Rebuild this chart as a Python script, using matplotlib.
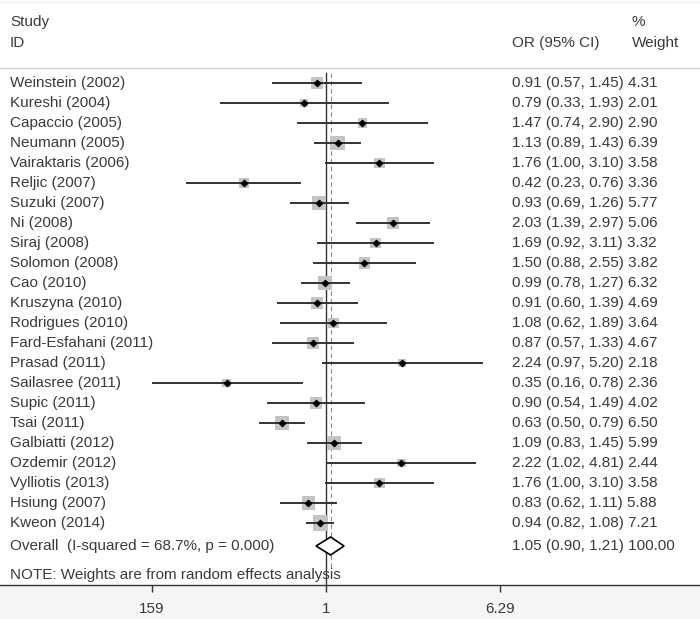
import numpy as np
import matplotlib
matplotlib.use('Agg')
import matplotlib.pyplot as plt
from matplotlib.patches import Polygon
import matplotlib.transforms as mtransforms

plt.rcParams['font.family'] = ['Liberation Sans', 'DejaVu Sans']

studies = ['Weinstein (2002)', 'Kureshi (2004)', 'Capaccio (2005)', 'Neumann (2005)',
           'Vairaktaris (2006)', 'Reljic (2007)', 'Suzuki (2007)', 'Ni (2008)',
           'Siraj (2008)', 'Solomon (2008)', 'Cao (2010)', 'Kruszyna (2010)',
           'Rodrigues (2010)', 'Fard-Esfahani (2011)', 'Prasad (2011)', 'Sailasree (2011)',
           'Supic (2011)', 'Tsai (2011)', 'Galbiatti (2012)', 'Ozdemir (2012)',
           'Vylliotis (2013)', 'Hsiung (2007)', 'Kweon (2014)']
odds = [0.91, 0.79, 1.47, 1.13, 1.76, 0.42, 0.93, 2.03, 1.69, 1.50, 0.99, 0.91,
        1.08, 0.87, 2.24, 0.35, 0.90, 0.63, 1.09, 2.22, 1.76, 0.83, 0.94]
lower = [0.57, 0.33, 0.74, 0.89, 1.00, 0.23, 0.69, 1.39, 0.92, 0.88, 0.78, 0.60,
         0.62, 0.57, 0.97, 0.16, 0.54, 0.50, 0.83, 1.02, 1.00, 0.62, 0.82]
upper = [1.45, 1.93, 2.90, 1.43, 3.10, 0.76, 1.26, 2.97, 3.11, 2.55, 1.27, 1.39,
         1.89, 1.33, 5.20, 0.78, 1.49, 0.79, 1.45, 4.81, 3.10, 1.11, 1.08]
weights = [4.31, 2.01, 2.90, 6.39, 3.58, 3.36, 5.77, 5.06, 3.32, 3.82, 6.32, 4.69,
           3.64, 4.67, 2.18, 2.36, 4.02, 6.50, 5.99, 2.44, 3.58, 5.88, 7.21]
overall = (1.05, 0.90, 1.21)
overall_label = 'Overall  (I-squared = 68.7%, p = 0.000)'
note = 'NOTE: Weights are from random effects analysis'
ticks = [0.159, 1, 6.29]
tick_labels = ['159', '1', '6.29']

fig = plt.figure(figsize=(7, 6.19), dpi=100)
fig.patch.set_facecolor('#f5f5f5')
ax = fig.add_axes([0, 34 / 619, 1, 585 / 619])
ax.set_facecolor('white')
ax.set_xscale('log')
k = 94.6
ax.set_xlim(np.exp(-326 / k), np.exp(374 / k))
ax.set_ylim(25.1, -4.15)

for s in ['top', 'left', 'right']:
    ax.spines[s].set_visible(False)
ax.spines['bottom'].set_color('#333333')
ax.spines['bottom'].set_linewidth(1)
ax.set_xticks(ticks)
ax.set_xticklabels(tick_labels)
ax.minorticks_off()
ax.tick_params(axis='x', direction='out', length=5, width=1, color='#333333',
               labelsize=11, labelcolor='#3a3a3a', pad=7)
ax.set_yticks([])

tc = '#3a3a3a'
fs = 11
trans = mtransforms.blended_transform_factory(ax.transAxes, ax.transData)
xs, xor, xw = 10 / 700, 512 / 700, 632 / 700

# header
ax.text(xs, -3.05, 'Study', transform=trans, va='center', fontsize=fs, color=tc)
ax.text(xs, -2.0, 'ID', transform=trans, va='center', fontsize=fs, color=tc)
ax.text(xor, -2.0, 'OR (95% CI)', transform=trans, va='center', fontsize=fs, color=tc)
ax.text(xw, -3.05, '%', transform=trans, va='center', fontsize=fs, color=tc)
ax.text(xw, -2.0, 'Weight', transform=trans, va='center', fontsize=fs, color=tc)
ax.plot([0, 1], [-0.75, -0.75], transform=trans, color='#d0d0d0', lw=1)
ax.plot([0, 1], [-4.05, -4.05], transform=trans, color='#ececec', lw=1)

# reference lines
ax.plot([1, 1], [-0.5, 25.1], color='#333333', lw=1, zorder=2)
ax.plot([overall[0]] * 2, [-0.5, 24.3], color='#888888', lw=0.8, ls=(0, (4, 3)), zorder=2)

rows = np.arange(len(studies))
for r, name, o, lo, hi, w in zip(rows, studies, odds, lower, upper, weights):
    ax.scatter([o], [r], marker='s', s=16.5 * w, color='#c4c4c4', edgecolors='none', zorder=3)
    ax.plot([lo, hi], [r, r], color='#333333', lw=1.4, zorder=4)
    ax.scatter([o], [r], marker='D', s=10, color='black', zorder=5)
    ax.text(xs, r, name, transform=trans, va='center', fontsize=fs, color=tc)
    ax.text(xor, r, '%.2f (%.2f, %.2f) %.2f' % (o, lo, hi, w), transform=trans,
            va='center', fontsize=fs, color=tc)

ro = 23.15
est, lo, hi = overall
ax.add_patch(Polygon([(lo, ro), (est, ro - 0.45), (hi, ro), (est, ro + 0.45)],
                     closed=True, facecolor='white', edgecolor='black', lw=1.2, zorder=6))
ax.text(xs, ro, overall_label, transform=trans, va='center', fontsize=fs, color=tc)
ax.text(xor, ro, '%.2f (%.2f, %.2f) 100.00' % (est, lo, hi), transform=trans,
        va='center', fontsize=fs, color=tc)
ax.text(xs, 24.6, note, transform=trans, va='center', fontsize=fs, color=tc)

fig.savefig('out.png', dpi=100, facecolor=fig.get_facecolor())
